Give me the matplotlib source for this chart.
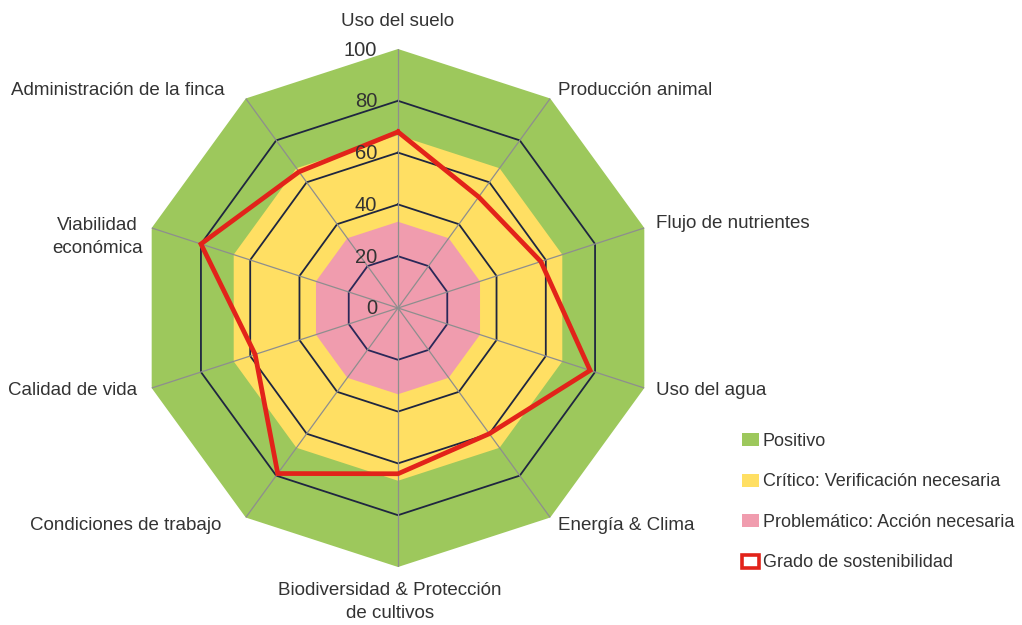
import numpy as np
import matplotlib
matplotlib.use("Agg")
import matplotlib.pyplot as plt
from matplotlib.patches import Patch

# ---- data ----
categories = ["Uso del suelo", "Producción animal", "Flujo de nutrientes", "Uso del agua",
              "Energía & Clima", "Biodiversidad & Protección\nde cultivos",
              "Condiciones de trabajo", "Calidad de vida", "Viabilidad\neconómica",
              "Administración de la finca"]
sustainability = [68, 53, 58, 78, 60, 64, 79, 58, 80, 65]
band_positive = 100
band_critical = 66.7
band_problem = 33.3
radial_ticks = [0, 20, 40, 60, 80, 100]
legend_labels = ["Positivo", "Crítico: Verificación necesaria",
                 "Problemático: Acción necesaria", "Grado de sostenibilidad"]

# ---- style ----
plt.rcParams['font.family'] = ['Liberation Sans Narrow', 'Liberation Sans', 'DejaVu Sans']
C_GREEN = '#9DC85C'
C_YELLOW = '#FFDF63'
C_PINK = '#F09CAE'
C_RED = '#E2231A'
C_GRID = '#1F2640'
C_SPOKE = '#8E8E8E'
C_TEXT = '#333333'

W, H = 1022, 625
fig = plt.figure(figsize=(W / 100, H / 100), dpi=100)
cx, cy, R = 398, 308, 259
ax = fig.add_axes([(cx - R) / W, (H - cy - R) / H, 2 * R / W, 2 * R / H], projection='polar')
ax.set_theta_zero_location('N')
ax.set_theta_direction(-1)
ax.set_ylim(0, 100)
ax.grid(False)
ax.set_xticks([])
ax.set_yticks([])
ax.spines['polar'].set_visible(False)
ax.patch.set_visible(False)

n = len(categories)
theta = np.arange(n) * 2 * np.pi / n
tc = np.append(theta, theta[0])

def ring(v):
    return np.full(n + 1, v, dtype=float)

ax.fill(tc, ring(band_positive), color=C_GREEN, lw=0, zorder=1)
ax.fill(tc, ring(band_critical), color=C_YELLOW, lw=0, zorder=1)
ax.fill(tc, ring(band_problem), color=C_PINK, lw=0, zorder=1)

# polygon grid
for v in radial_ticks[1:-1]:
    ax.plot(tc, ring(v), color='#2A2858' if v == 20 else C_GRID, lw=1.3, zorder=2)
# spokes
for t in theta:
    ax.plot([t, t], [0, 100], color=C_SPOKE, lw=0.9, zorder=2)

# series
ax.plot(tc, np.append(sustainability, sustainability[0]), color=C_RED, lw=3.4,
        zorder=4, solid_joinstyle='miter')

# radial tick labels
for v in radial_ticks:
    ax.annotate(str(v), xy=(0, v), xytext=(-21, -1), textcoords='offset pixels',
                ha='right', va='center', fontsize=14.5, color=C_TEXT, zorder=5)

# category labels
offsets = [((0, 27), 'center'), ((8, 8), 'left'), ((12, 4), 'left'), ((12, -2), 'left'),
           ((8, -8), 'left'), ((-8, -35), 'center'), ((-24, -8), 'right'),
           ((-15, -2), 'right'), ((-9, -9), 'right'), ((-21, 8), 'right')]
for t, lab, (off, ha) in zip(theta, categories, offsets):
    ax.annotate(lab, xy=(t, 100), xytext=off, textcoords='offset pixels',
                ha=ha, va='center', multialignment='center', fontsize=13.5,
                color=C_TEXT, linespacing=1.45, annotation_clip=False)

# legend
handles = [Patch(facecolor=C_GREEN, edgecolor='none'),
           Patch(facecolor=C_YELLOW, edgecolor='none'),
           Patch(facecolor=C_PINK, edgecolor='none'),
           Patch(facecolor='white', edgecolor=C_RED, linewidth=2.6)]
leg = fig.legend(handles, legend_labels, loc='upper left',
                 bbox_to_anchor=(742 / W, 1 - 433 / H), frameon=False,
                 fontsize=13, handlelength=0.95, handleheight=0.75,
                 handletextpad=0.2, labelspacing=1.3, borderpad=0, borderaxespad=0)
for t in leg.get_texts():
    t.set_color(C_TEXT)

fig.savefig('out.png', dpi=100)
